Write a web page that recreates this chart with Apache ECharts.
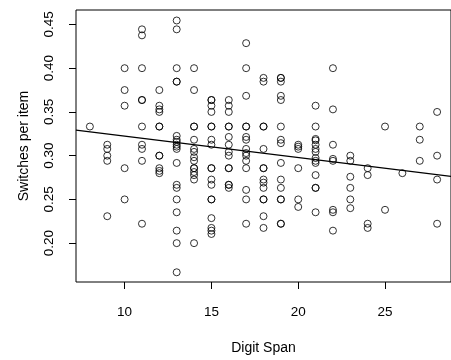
<!DOCTYPE html>
<html>
<head>
<meta charset="utf-8">
<script src="https://cdn.jsdelivr.net/npm/echarts@6/dist/echarts.min.js"></script>
<style>
  html, body { margin: 0; padding: 0; background: #fff; }
  #chart { width: 451px; height: 360px; }
</style>
</head>
<body>
<div id="chart"></div>
<script>
// digit span values (x) and the switches per item seen at each one
var digitSpan = [8, 9, 10, 11, 12, 13, 14, 15, 16, 17, 18, 19, 20, 21, 22, 23, 24, 25, 26, 27, 28];
var switchesPerItem = [
  [0.3333],
  [0.3125, 0.3077, 0.30, 0.2941, 0.2308],
  [0.40, 0.375, 0.3571, 0.2857, 0.25],
  [0.4444, 0.4375, 0.40, 0.3636, 0.3636, 0.3333, 0.3125, 0.3077, 0.2941, 0.2222],
  [0.375, 0.3571, 0.3529, 0.35, 0.3333, 0.3333, 0.30, 0.30, 0.2857, 0.2826, 0.28],
  [0.4545, 0.4444, 0.40, 0.3846, 0.3846, 0.3226, 0.3182, 0.3158, 0.3125, 0.3103, 0.3077, 0.2917, 0.2667, 0.2632, 0.25, 0.2353, 0.2143, 0.20, 0.1667],
  [0.40, 0.375, 0.3333, 0.3333, 0.3182, 0.3077, 0.3043, 0.2982, 0.2941, 0.2857, 0.2857, 0.2813, 0.2778, 0.2727, 0.20],
  [0.3636, 0.3636, 0.3571, 0.35, 0.3333, 0.3333, 0.3182, 0.3125, 0.2857, 0.2857, 0.2727, 0.2667, 0.25, 0.25, 0.2286, 0.2174, 0.2143, 0.2105],
  [0.3636, 0.3571, 0.35, 0.3333, 0.3333, 0.3214, 0.3125, 0.3043, 0.30, 0.2857, 0.2857, 0.2667, 0.2667, 0.2632],
  [0.4286, 0.40, 0.3684, 0.3333, 0.3333, 0.3214, 0.3182, 0.3077, 0.3030, 0.30, 0.2941, 0.2857, 0.2609, 0.25, 0.2222],
  [0.3889, 0.3846, 0.3333, 0.3333, 0.3077, 0.2857, 0.2857, 0.2727, 0.2692, 0.2632, 0.25, 0.25, 0.2308, 0.2174],
  [0.3889, 0.3889, 0.3846, 0.3684, 0.3636, 0.3333, 0.3182, 0.3143, 0.2917, 0.2727, 0.2632, 0.25, 0.25, 0.2222, 0.2222],
  [0.3125, 0.3103, 0.3077, 0.2857, 0.25, 0.2414],
  [0.3571, 0.3333, 0.3191, 0.3175, 0.3125, 0.3077, 0.3043, 0.2973, 0.2941, 0.2917, 0.2778, 0.2632, 0.2632, 0.2353],
  [0.40, 0.3529, 0.3125, 0.2963, 0.2941, 0.2381, 0.2353, 0.2143],
  [0.30, 0.2941, 0.2759, 0.2632, 0.25, 0.24],
  [0.2857, 0.2778, 0.2222, 0.2174],
  [0.3333, 0.2381],
  [0.28],
  [0.3333, 0.3182, 0.2941],
  [0.35, 0.30, 0.2727, 0.2222]
];
var xTicks = [10, 15, 20, 25];
var yTicks = [0.20, 0.25, 0.30, 0.35, 0.40, 0.45];
// fitted line
var fitIntercept = 0.3468;
var fitSlope = -0.00245;

var xMin = 7.2, xMax = 28.8;
var yMin = 0.1556, yMax = 0.4665;

var points = [];
digitSpan.forEach(function (d, i) {
  switchesPerItem[i].forEach(function (v) { points.push([d, v]); });
});
var fitLine = [
  [xMin, fitIntercept + fitSlope * xMin],
  [xMax, fitIntercept + fitSlope * xMax]
];

var font = 'Liberation Sans, Arial, Helvetica, sans-serif';
var chart = echarts.init(document.getElementById('chart'));
chart.setOption({
  animation: false,
  backgroundColor: '#fff',
  grid: {
    left: 76, top: 10, width: 377.7, height: 279,
    show: true, borderColor: '#000', borderWidth: 1
  },
  xAxis: {
    type: 'value', min: xMin, max: xMax,
    name: 'Digit Span', nameLocation: 'middle', nameGap: 59,
    nameTextStyle: { color: '#000', fontSize: 14, fontFamily: font },
    axisLine: { show: false },
    axisTick: { show: true, length: 7, customValues: xTicks, lineStyle: { color: '#000' } },
    axisLabel: { customValues: xTicks, margin: 23, color: '#000', fontSize: 13.5, fontFamily: font },
    splitLine: { show: false }
  },
  yAxis: {
    type: 'value', min: yMin, max: yMax,
    name: 'Switches per item', nameLocation: 'middle', nameGap: 45,
    nameTextStyle: { color: '#000', fontSize: 14, fontFamily: font },
    axisLine: { show: false },
    axisTick: { show: true, length: 7, customValues: yTicks, lineStyle: { color: '#000' } },
    axisLabel: {
      customValues: yTicks, rotate: 90, margin: 20, color: '#000', fontSize: 13.5, fontFamily: font,
      formatter: function (v) { return v.toFixed(2); }
    },
    splitLine: { show: false }
  },
  series: [
    {
      type: 'scatter', data: points, symbol: 'circle', symbolSize: 7,
      itemStyle: { color: 'rgba(0,0,0,0)', borderColor: '#000', borderWidth: 1 }
    },
    {
      type: 'line', data: fitLine, symbol: 'none', clip: true,
      lineStyle: { color: '#000', width: 1.3 }
    }
  ]
});
</script>
</body>
</html>
